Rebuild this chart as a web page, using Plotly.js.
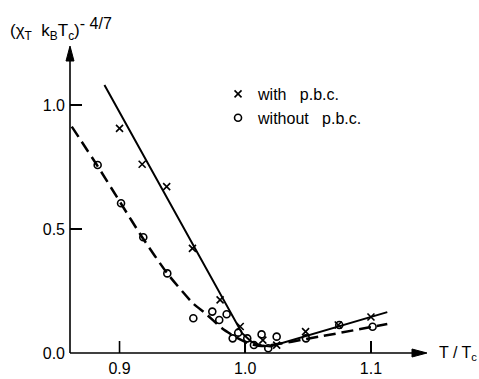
<!DOCTYPE html>
<html>
<head>
<meta charset="utf-8">
<script src="https://cdn.plot.ly/plotly-3.0.1.min.js"></script>
<style>html,body{margin:0;padding:0;background:#fff;}#chart{width:479px;height:379px;}</style>
</head>
<body>
<div id="chart"></div>
<script>
// Data
const withT = [0.900, 0.918, 0.9375, 0.958, 0.980, 0.996, 1.014, 1.025, 1.048, 1.074, 1.100];
const withY = [0.906, 0.761, 0.671, 0.422, 0.214, 0.107, 0.052, 0.032, 0.086, 0.113, 0.145];

const withoutT = [0.8826, 0.9012, 0.9189, 0.938, 0.9587, 0.9738, 0.9793, 0.9852, 0.990, 0.9944, 1.0016, 1.0069, 1.013, 1.0183, 1.025, 1.0483, 1.0748, 1.1013];
const withoutY = [0.758, 0.604, 0.467, 0.321, 0.140, 0.167, 0.133, 0.156, 0.059, 0.082, 0.059, 0.032, 0.075, 0.019, 0.066, 0.059, 0.113, 0.106];

// Fitted curves
const solidT = [0.888, 0.9975, 1.005, 1.013, 1.020, 1.113];
const solidY = [1.081, 0.080, 0.045, 0.030, 0.026, 0.165];

const dashT = [0.862, 0.882, 0.901, 0.918, 0.938, 0.9585, 0.968, 0.9815, 0.992, 1.002, 1.013, 1.059, 1.113];
const dashY = [0.913, 0.758, 0.604, 0.467, 0.321, 0.200, 0.161, 0.100, 0.065, 0.040, 0.028, 0.066, 0.117];

const xTicks = [0.9, 1.0, 1.1];
const xTickText = ['0.9', '1.0', '1.1'];
const yTicks = [0, 0.5, 1.0];
const yTickText = ['0.0', '0.5', '1.0'];

const legendNames = ['with&nbsp;&nbsp; p.b.c.', 'without&nbsp;&nbsp; p.b.c.'];

const xr = [0.8606, 1.143];
const yr = [0, 1.23];
const F = 'Liberation Sans, Arial, sans-serif';

const traces = [
  {x: solidT, y: solidY, mode: 'lines', line: {color: '#000', width: 2}, showlegend: false, hoverinfo: 'skip'},
  {x: dashT, y: dashY, mode: 'lines', line: {color: '#000', width: 2.5, dash: '12px,6px', shape: 'spline', smoothing: 0.6}, showlegend: false, hoverinfo: 'skip'},
  {x: withT, y: withY, mode: 'markers', name: legendNames[0], marker: {symbol: 'x-thin-open', size: 7, color: '#000', line: {color: '#000', width: 1.6}}, cliponaxis: false},
  {x: withoutT, y: withoutY, mode: 'markers', name: legendNames[1], marker: {symbol: 'circle-open', size: 7, color: '#000', line: {color: '#000', width: 1.6}}, cliponaxis: false}
];

const axisCommon = {showline: false, showgrid: false, zeroline: false,
  ticks: 'inside', ticklen: 12, tickwidth: 1.5, tickcolor: '#000'};

// axis lines + arrowheads in paper coordinates (unclipped), tick marks anchored on the axes' scales
const shapes = [
  {type: 'line', xref: 'paper', yref: 'paper', x0: 0, y0: 0, x1: 1, y1: 0, line: {color: '#000', width: 1.6}},
  {type: 'line', xref: 'paper', yref: 'paper', x0: 0, y0: 0, x1: 0, y1: 1, line: {color: '#000', width: 1.6}},
  {type: 'path', xref: 'paper', yref: 'paper', xsizemode: 'pixel', ysizemode: 'pixel', xanchor: 1, yanchor: 0,
   path: 'M2,0 L-13,-4 L-13,4 Z', fillcolor: '#000', line: {color: '#000', width: 1}},
  {type: 'path', xref: 'paper', yref: 'paper', xsizemode: 'pixel', ysizemode: 'pixel', xanchor: 0, yanchor: 1,
   path: 'M0,2 L-4,-13 L4,-13 Z', fillcolor: '#000', line: {color: '#000', width: 1}}
];
xTicks.forEach(v => shapes.push({type: 'line', xref: 'x', yref: 'paper', ysizemode: 'pixel', yanchor: 0,
  x0: v, x1: v, y0: 0, y1: 12, line: {color: '#000', width: 1.6}}));
yTicks.filter(v => v > 0).forEach(v => shapes.push({type: 'line', xref: 'paper', yref: 'y', xsizemode: 'pixel', xanchor: 0,
  x0: 0, x1: 12, y0: v, y1: v, line: {color: '#000', width: 1.6}}));

const layout = {
  width: 479, height: 379,
  margin: {l: 70, r: 54, t: 48, b: 26},
  paper_bgcolor: '#fff', plot_bgcolor: 'rgba(0,0,0,0)',
  font: {family: F, size: 16, color: '#000'},
  showlegend: true,
  legend: {x: 0.417, xanchor: 'left', y: 0.905, yanchor: 'top', bgcolor: 'rgba(0,0,0,0)', font: {family: F, size: 16, color: '#000'}, tracegroupgap: 0},
  xaxis: Object.assign({}, axisCommon, {range: xr, tickvals: xTicks, ticktext: xTickText, ticklabelstandoff: 4,
          tickfont: {family: F, size: 16, color: '#000'}}),
  yaxis: Object.assign({}, axisCommon, {range: yr, tickvals: yTicks, ticktext: yTickText, ticklabelstandoff: 4,
          tickfont: {family: F, size: 16, color: '#000'}}),
  shapes: shapes,
  annotations: [
    {xref: 'paper', yref: 'paper', x: 1.0338, y: 0, xanchor: 'left', yanchor: 'middle', showarrow: false, text: 'T / T<sub>c</sub>', font: {family: F, size: 16, color: '#000'}},
    {xref: 'paper', yref: 'paper', x: -0.1746, y: 1.062, xanchor: 'left', yanchor: 'middle', showarrow: false, text: '(χ<sub>T</sub>&nbsp;&nbsp;k<sub>B</sub>T<sub>c</sub>)<sup><span style="font-size:16px">- 4/7</span></sup>', font: {family: F, size: 17, color: '#000'}}
  ]
};

Plotly.newPlot('chart', traces, layout, {displayModeBar: false, staticPlot: true});
</script>
</body>
</html>
